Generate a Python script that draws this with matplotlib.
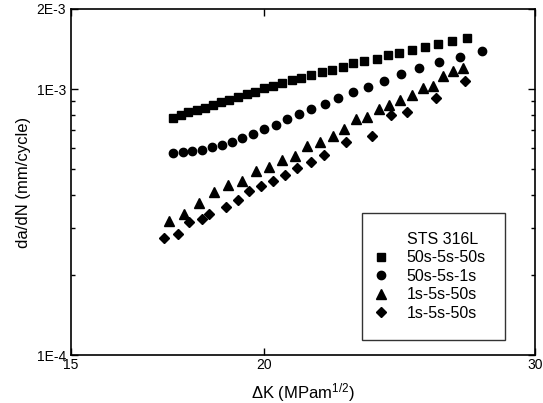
import matplotlib
matplotlib.use('Agg')
import matplotlib.pyplot as plt
from matplotlib.ticker import FixedLocator, FixedFormatter, NullFormatter

plt.rcParams['font.family'] = ['Liberation Sans', 'DejaVu Sans']
plt.rcParams['mathtext.fontset'] = 'custom'
plt.rcParams['mathtext.rm'] = 'Liberation Sans'
plt.rcParams['mathtext.default'] = 'regular'

# 50s-5s-50s
sq_dk = [17.46, 17.68, 17.87, 18.10, 18.31, 18.54, 18.77, 18.99, 19.24, 19.50,
         19.75, 20.01, 20.29, 20.56, 20.86, 21.15, 21.47, 21.81, 22.14, 22.51,
         22.87, 23.25, 23.68, 24.08, 24.50, 24.97, 25.47, 25.97, 26.50, 27.09]
sq_rate = [7.78e-4, 7.97e-4, 8.18e-4, 8.34e-4, 8.49e-4, 8.69e-4, 8.96e-4, 9.10e-4, 9.34e-4, 9.56e-4,
           9.77e-4, 1.007e-3, 1.024e-3, 1.057e-3, 1.079e-3, 1.103e-3, 1.129e-3, 1.156e-3, 1.182e-3, 1.214e-3,
           1.250e-3, 1.275e-3, 1.301e-3, 1.343e-3, 1.370e-3, 1.406e-3, 1.436e-3, 1.477e-3, 1.512e-3, 1.552e-3]

# 50s-5s-1s
ci_dk = [17.47, 17.72, 17.98, 18.23, 18.51, 18.79, 19.07, 19.36, 19.68, 20.01,
         20.37, 20.70, 21.09, 21.47, 21.92, 22.36, 22.85, 23.39, 23.95, 24.57,
         25.24, 25.98, 26.82, 27.70]
ci_rate = [5.73e-4, 5.78e-4, 5.83e-4, 5.90e-4, 6.04e-4, 6.16e-4, 6.34e-4, 6.53e-4, 6.78e-4, 7.06e-4,
           7.31e-4, 7.70e-4, 8.04e-4, 8.41e-4, 8.81e-4, 9.23e-4, 9.75e-4, 1.021e-3, 1.075e-3, 1.136e-3,
           1.197e-3, 1.261e-3, 1.316e-3, 1.394e-3]

# 1s-5s-50s (triangles)
tr_dk = [17.37, 17.77, 18.16, 18.58, 18.97, 19.36, 19.78, 20.16, 20.57, 20.97,
         21.35, 21.76, 22.18, 22.56, 22.95, 23.35, 23.75, 24.13, 24.52, 24.97,
         25.37, 25.76, 26.14, 26.55, 26.95]
tr_rate = [3.19e-4, 3.39e-4, 3.74e-4, 4.11e-4, 4.36e-4, 4.52e-4, 4.91e-4, 5.11e-4, 5.41e-4, 5.60e-4,
           6.12e-4, 6.34e-4, 6.66e-4, 7.06e-4, 7.72e-4, 7.87e-4, 8.44e-4, 8.69e-4, 9.10e-4, 9.50e-4,
           1.007e-3, 1.030e-3, 1.123e-3, 1.172e-3, 1.203e-3]

# 1s-5s-50s (diamonds)
di_dk = [17.24, 17.59, 17.89, 18.23, 18.44, 18.91, 19.26, 19.58, 19.92, 20.29,
         20.65, 21.01, 21.46, 21.90, 22.61, 23.52, 24.19, 24.77, 25.88, 27.02]
di_rate = [2.75e-4, 2.84e-4, 3.16e-4, 3.24e-4, 3.38e-4, 3.59e-4, 3.83e-4, 4.15e-4, 4.32e-4, 4.51e-4,
           4.75e-4, 5.04e-4, 5.30e-4, 5.65e-4, 6.34e-4, 6.66e-4, 7.97e-4, 8.18e-4, 9.28e-4, 1.072e-3]

x_ticks = [15, 20, 30]
x_labels = ['15', '20', '30']
y_ticks = [1e-4, 1e-3, 2e-3]
y_labels = ['1E-4', '1E-3', '2E-3']
y_minor = [2e-4, 3e-4, 4e-4, 5e-4, 6e-4, 7e-4, 8e-4, 9e-4]


def main():
    fig = plt.figure(figsize=(5.43, 4.03), dpi=100)
    ax = fig.add_axes([0.1308, 0.1191, 0.8545, 0.8586])

    ax.plot([], [], ' ', label='STS 316L')
    ax.plot(sq_dk, sq_rate, 's', color='black', ms=5.3, label='50s-5s-50s')
    ax.plot(ci_dk, ci_rate, 'o', color='black', ms=6, label='50s-5s-1s')
    ax.plot(tr_dk, tr_rate, '^', color='black', ms=6.5, label='1s-5s-50s')
    ax.plot(di_dk, di_rate, 'D', color='black', ms=5.2, label='1s-5s-50s')

    ax.set_xscale('log')
    ax.set_yscale('log')
    ax.set_xlim(15, 30)
    ax.set_ylim(1e-4, 2e-3)

    ax.xaxis.set_major_locator(FixedLocator(x_ticks))
    ax.xaxis.set_major_formatter(FixedFormatter(x_labels))
    ax.xaxis.set_minor_locator(FixedLocator([]))
    ax.xaxis.set_minor_formatter(NullFormatter())
    ax.yaxis.set_major_locator(FixedLocator(y_ticks))
    ax.yaxis.set_major_formatter(FixedFormatter(y_labels))
    ax.yaxis.set_minor_locator(FixedLocator(y_minor))
    ax.yaxis.set_minor_formatter(NullFormatter())

    ax.tick_params(which='both', direction='in', top=True, right=True, labelsize=10, width=1)
    ax.tick_params(which='major', length=5)
    ax.tick_params(which='minor', length=3)
    ax.tick_params(axis='x', pad=2)
    for s in ax.spines.values():
        s.set_linewidth(1.2)

    ax.set_xlabel('ΔK (MPam$^{1/2}$)', fontsize=12, labelpad=7)
    ax.set_ylabel('da/dN (mm/cycle)', fontsize=12, labelpad=4)

    leg = ax.legend(loc='lower right', bbox_to_anchor=(0.935, 0.043), borderaxespad=0,
                    fontsize=11.5, numpoints=1, fancybox=False, frameon=True,
                    edgecolor='black', borderpad=1.2, handlelength=0.0,
                    handletextpad=1.6, labelspacing=0.22)
    leg.get_frame().set_linewidth(1)

    fig.savefig('out.png', dpi=100)


if __name__ == '__main__':
    main()
